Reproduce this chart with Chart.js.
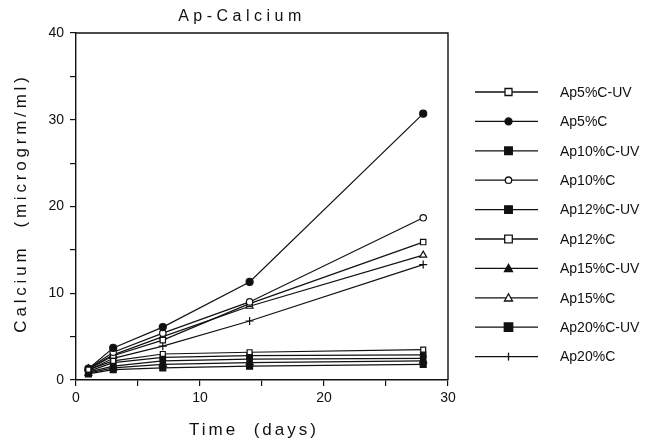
<!DOCTYPE html>
<html>
<head>
<meta charset="utf-8">
<title>Ap-Calcium</title>
<script src="https://cdn.jsdelivr.net/npm/chart.js@4.4.1/dist/chart.umd.min.js"></script>
<style>
    html, body { margin: 0; padding: 0; background: #fff; }
    #wrap { width: 645px; height: 444px; }
</style>
</head>
<body>
<div id="wrap"><canvas id="chart" width="645" height="444"></canvas></div>
<script>
// Data (days vs calcium, microgrm/ml)
const days = [1, 3, 7, 14, 28];

const ap5UV  = [1.2, 2.2, 3.0, 3.2, 3.5];
const ap5    = [1.3, 3.7, 6.1, 11.3, 30.7];
const ap10UV = [1.0, 2.0, 2.6, 2.8, 2.9];
const ap10   = [1.3, 3.2, 5.4, 9.0, 18.7];
const ap12UV = [0.9, 1.6, 2.2, 2.4, 2.5];
const ap12   = [1.2, 2.8, 4.6, 8.8, 15.9];
const ap15UV = [0.8, 1.4, 1.8, 2.0, 2.2];
const ap15   = [1.3, 2.9, 5.0, 8.5, 14.4];
const ap20UV = [0.7, 1.2, 1.4, 1.6, 1.8];
const ap20   = [1.1, 2.5, 3.9, 6.8, 13.3];

const seriesNames = ['Ap5%C-UV', 'Ap5%C', 'Ap10%C-UV', 'Ap10%C', 'Ap12%C-UV',
                     'Ap12%C', 'Ap15%C-UV', 'Ap15%C', 'Ap20%C-UV', 'Ap20%C'];
const seriesValues = [ap5UV, ap5, ap10UV, ap10, ap12UV, ap12, ap15UV, ap15, ap20UV, ap20];

const xTicks = [0, 10, 20, 30];
const yTicks = [0, 10, 20, 30, 40];

const titleText = 'Ap-Calcium';
const xTitle = 'Time  (days)';
const yTitle = 'Calcium  (microgrm/ml)';

// marker look per series: [pointStyle, filled, radius]
const markers = [
    ['rect', false, 3.5],
    ['circle', true, 3.5],
    ['rect', true, 3.8],
    ['circle', false, 3.2],
    ['rect', true, 3.8],
    ['rect', false, 3.8],
    ['triangle', true, 4],
    ['triangle', false, 4],
    ['rect', true, 4.2],
    ['cross', false, 4]
];

const INK = '#111';
const FONT = '"Liberation Sans", Arial, sans-serif';

// legend sample: short line with the marker on it
function drawLegendSample(g, x0, x1, cy, style, filled, r) {
    g.strokeStyle = INK;
    g.fillStyle = filled ? INK : '#fff';
    g.lineWidth = 1.3;
    g.beginPath();
    g.moveTo(x0, cy);
    g.lineTo(x1, cy);
    g.stroke();
    const cx = (x0 + x1) / 2 + 2;
    g.beginPath();
    if (style === 'rect') {
        g.rect(cx - r, cy - r, r * 2, r * 2);
    } else if (style === 'circle') {
        g.arc(cx, cy, r, 0, Math.PI * 2);
    } else if (style === 'triangle') {
        g.moveTo(cx, cy - r);
        g.lineTo(cx + r, cy + r * 0.8);
        g.lineTo(cx - r, cy + r * 0.8);
        g.closePath();
    } else if (style === 'cross') {
        g.moveTo(cx, cy - r);
        g.lineTo(cx, cy + r);
        g.stroke();
        return;
    }
    g.fill();
    g.stroke();
}

const datasets = seriesNames.map((name, i) => ({
    label: name,
    data: days.map((d, k) => ({ x: d, y: seriesValues[i][k] })),
    borderColor: INK,
    borderWidth: 1.2,
    pointStyle: markers[i][0],
    pointRadius: markers[i][2],
    pointBorderWidth: 1.2,
    pointBorderColor: INK,
    pointBackgroundColor: markers[i][1] ? INK : '#fff',
    tension: 0
}));

// frame, legend and spaced-out titles
const framePlugin = {
    id: 'frame',
    afterDraw(chart) {
        const ctx = chart.ctx;
        const a = chart.chartArea;
        ctx.save();
        ctx.strokeStyle = INK;
        ctx.lineWidth = 1.4;
        ctx.beginPath();
        ctx.moveTo(a.left, a.top);
        ctx.lineTo(a.right, a.top);
        ctx.lineTo(a.right, a.bottom);
        ctx.stroke();

        // legend
        const lx = a.right + 27;
        chart.data.datasets.forEach((ds, i) => {
            const cy = 92 + i * 29.4;
            const m = markers[i];
            drawLegendSample(ctx, lx, lx + 63, cy, m[0], m[1], m[2]);
            ctx.fillStyle = INK;
            ctx.font = '14px ' + FONT;
            ctx.textAlign = 'left';
            ctx.textBaseline = 'middle';
            ctx.fillText(ds.label, lx + 85, cy + 1);
        });

        ctx.fillStyle = INK;
        ctx.textAlign = 'center';
        ctx.textBaseline = 'middle';

        ctx.font = '16px ' + FONT;
        ctx.letterSpacing = '4.5px';
        ctx.fillText(titleText, a.left + 166, 17);

        ctx.font = '17px ' + FONT;
        ctx.letterSpacing = '3px';
        ctx.fillText(xTitle, a.left + 178, 430);

        ctx.translate(21, 203);
        ctx.rotate(-Math.PI / 2);
        ctx.letterSpacing = '3.8px';
        ctx.fillText(yTitle, 0, 0);
        ctx.restore();
    }
};

const tickFont = { family: FONT, size: 14 };

new Chart(document.getElementById('chart'), {
    type: 'line',
    data: { datasets: datasets },
    options: {
        responsive: false,
        animation: false,
        devicePixelRatio: 1,
        layout: { padding: { top: 33, right: 197, bottom: 32, left: 0 } },
        plugins: {
            title: { display: false },
            tooltip: { enabled: false },
            legend: { display: false }
        },
        scales: {
            x: {
                type: 'linear',
                min: 0,
                max: 30,
                afterFit: (s) => { s.height = 32; },
                border: { color: INK, width: 1.4 },
                grid: { drawOnChartArea: false, color: INK, tickLength: 6, lineWidth: 1.2 },
                ticks: {
                    stepSize: 5,
                    color: INK,
                    font: tickFont,
                    padding: 4,
                    maxRotation: 0,
                    callback: (v) => xTicks.includes(v) ? String(v) : ''
                }
            },
            y: {
                type: 'linear',
                min: 0,
                max: 40,
                afterFit: (s) => { s.width = 76; },
                border: { color: INK, width: 1.4 },
                grid: { drawOnChartArea: false, color: INK, tickLength: 6, lineWidth: 1.2 },
                ticks: {
                    stepSize: 5,
                    color: INK,
                    font: tickFont,
                    padding: 6,
                    callback: (v) => yTicks.includes(v) ? String(v) : ''
                }
            }
        }
    },
    plugins: [framePlugin]
});
</script>
</body>
</html>
